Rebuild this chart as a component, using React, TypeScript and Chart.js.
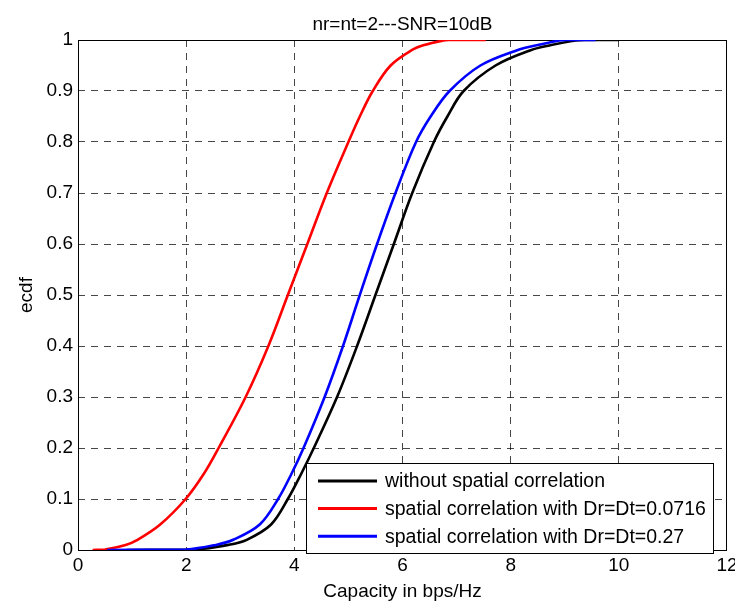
import { useEffect, useRef } from "react";
import { Chart, registerables } from "chart.js";

Chart.register(...registerables);

// Empirical CDF levels shared by the three capacity curves
const cdfLevels = [0, 0.001, 0.01, 0.02, 0.05, 0.1, 0.15, 0.2, 0.3, 0.4, 0.5, 0.6, 0.7, 0.8, 0.85, 0.9, 0.95, 0.98, 0.99, 0.999, 1, 1];

// Capacity (bps/Hz) reached at each CDF level
const capNoCorrelation = [0.9, 2.15, 2.78, 3.12, 3.57, 3.88, 4.13, 4.36, 4.79, 5.16, 5.5, 5.84, 6.18, 6.58, 6.83, 7.13, 7.72, 8.37, 8.75, 9.2, 9.4, 10.0];
const capCorr0716 = [0.27, 0.5, 0.88, 1.1, 1.52, 1.99, 2.33, 2.6, 3.1, 3.52, 3.88, 4.24, 4.6, 5.0, 5.21, 5.45, 5.78, 6.17, 6.4, 6.75, 6.85, 7.54];
const capCorr027 = [0.54, 2.0, 2.55, 2.87, 3.36, 3.7, 3.95, 4.17, 4.56, 4.9, 5.21, 5.53, 5.87, 6.25, 6.52, 6.87, 7.44, 8.12, 8.5, 8.9, 9.05, 9.57];

const seriesLabels = [
  "without spatial correlation",
  "spatial correlation with Dr=Dt=0.0716",
  "spatial correlation with Dr=Dt=0.27",
];
const seriesColors = ["#000000", "#ff0000", "#0000ff"];

const titleText = "nr=nt=2---SNR=10dB";
const xTitle = "Capacity in bps/Hz";
const yTitle = "ecdf";

const FONT = "'Liberation Sans', Arial, Helvetica, sans-serif";

const toPoints = (caps: number[]) => caps.map((c, i) => ({ x: c, y: cdfLevels[i] }));

// Solid box around the plotting area
const framePlugin = {
  id: "frame",
  beforeDatasetsDraw(chart: any) {
    const { ctx, chartArea: a } = chart;
    ctx.save();
    ctx.strokeStyle = "#000";
    ctx.lineWidth = 1;
    ctx.setLineDash([]);
    ctx.strokeRect(Math.round(a.left) + 0.5, Math.round(a.top) + 0.5, Math.round(a.right - a.left) - 1, Math.round(a.bottom - a.top));
    ctx.restore();
  },
};

// Boxed legend in the lower-right corner of the axes
const boxLegendPlugin = {
  id: "boxLegend",
  afterDraw(chart: any) {
    const { ctx, chartArea: a } = chart;
    const w = 407;
    const h = 90;
    const x0 = Math.round(a.right - 14 - w);
    const y0 = Math.round(a.bottom + 3 - h);
    ctx.save();
    ctx.fillStyle = "#fff";
    ctx.fillRect(x0, y0, w, h);
    ctx.strokeStyle = "#000";
    ctx.lineWidth = 1;
    ctx.strokeRect(x0 + 0.5, y0 + 0.5, w, h);
    ctx.font = `19.5px ${FONT}`;
    ctx.textBaseline = "middle";
    ctx.textAlign = "left";
    chart.data.datasets.forEach((ds: any, i: number) => {
      const y = y0 + 18 + i * 27.6;
      ctx.strokeStyle = ds.borderColor;
      ctx.lineWidth = 3;
      ctx.beginPath();
      ctx.moveTo(x0 + 12, y);
      ctx.lineTo(x0 + 71, y);
      ctx.stroke();
      ctx.fillStyle = "#000";
      ctx.fillText(ds.label, x0 + 79, y + 1);
    });
    ctx.restore();
  },
};

const gridColor = (max: number) => (c: any) =>
  c.tick && (c.tick.value === 0 || Math.abs(c.tick.value - max) < 1e-9) ? "rgba(0,0,0,0)" : "rgba(0,0,0,0.72)";

const plainNumber = (v: number | string) => String(Number(Number(v).toFixed(2)));

export default function App() {
  const ref = useRef<HTMLCanvasElement>(null);

  useEffect(() => {
    if (!ref.current) return;
    const caps = [capNoCorrelation, capCorr0716, capCorr027];
    const chart = new Chart(ref.current, {
      type: "line",
      data: {
        datasets: caps.map((c, i) => ({
          label: seriesLabels[i],
          data: toPoints(c),
          borderColor: seriesColors[i],
          backgroundColor: seriesColors[i],
          borderWidth: 2.6,
          pointRadius: 0,
          tension: 0.35,
          fill: false,
          order: 2 - i,
        })),
      },
      options: {
        responsive: false,
        animation: false,
        devicePixelRatio: 1,
        layout: { padding: { top: 0, right: 8, left: 0, bottom: 0 } },
        plugins: {
          legend: { display: false },
          tooltip: { enabled: false },
          title: {
            display: true,
            text: titleText,
            fullSize: false,
            color: "#000",
            font: { family: FONT, size: 19, weight: "normal", lineHeight: 1.2 },
            padding: { top: 13.5, bottom: 3.7 },
          },
        },
        scales: {
          x: {
            type: "linear",
            min: 0,
            max: 12,
            afterFit(s: any) {
              s.height = 63;
              s.paddingLeft = 0;
              s.paddingRight = 0;
            },
            ticks: {
              stepSize: 2,
              color: "#000",
              padding: 4,
              maxRotation: 0,
              font: { family: FONT, size: 19 },
              callback: plainNumber,
            },
            grid: { color: gridColor(12), lineWidth: 1, drawTicks: false },
            border: { display: false, dash: [7, 6] },
            title: {
              display: true,
              text: xTitle,
              color: "#000",
              font: { family: FONT, size: 19, lineHeight: 1.2 },
              padding: { top: 0, bottom: 9.5 },
            },
          },
          y: {
            type: "linear",
            min: 0,
            max: 1,
            afterFit(s: any) {
              s.width = 78;
            },
            ticks: {
              stepSize: 0.1,
              color: "#000",
              padding: 5,
              font: { family: FONT, size: 19 },
              callback: plainNumber,
            },
            grid: { color: gridColor(1), lineWidth: 1, drawTicks: false },
            border: { display: false, dash: [7, 6] },
            title: {
              display: true,
              text: yTitle,
              color: "#000",
              font: { family: FONT, size: 19, lineHeight: 1.2 },
              padding: { top: 15, bottom: 0 },
            },
          },
        },
      },
      plugins: [framePlugin, boxLegendPlugin],
    });
    return () => chart.destroy();
  }, []);

  return (
    <div style={{ position: "absolute", left: 0, top: 0, width: 735, height: 613, background: "#fff" }}>
      <canvas ref={ref} width={735} height={613} style={{ display: "block" }} />
    </div>
  );
}
